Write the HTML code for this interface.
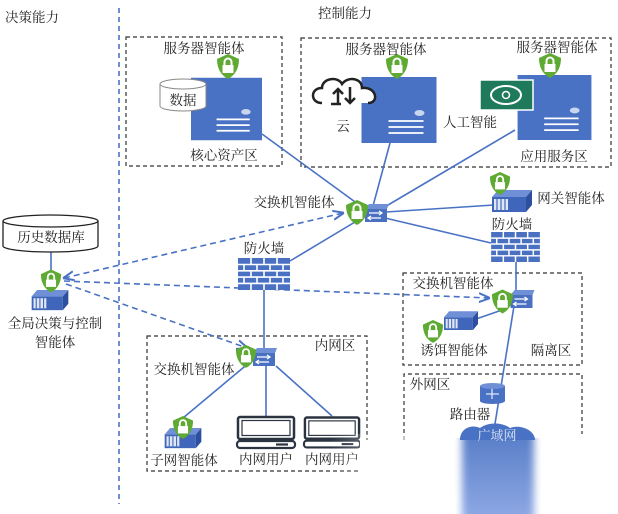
<!DOCTYPE html>
<html><head><meta charset="utf-8"><style>
html,body{margin:0;padding:0;background:#fff;}
svg{display:block;font-family:"Liberation Serif","Noto Serif CJK SC","Noto Sans CJK SC",serif;}
text{font-size:13.5px;fill:#222;}
</style></head><body>
<svg width="618" height="514" viewBox="0 0 618 514" xmlns="http://www.w3.org/2000/svg">
<defs>
<symbol id="shield" viewBox="-12 -13 24 26" overflow="visible">
<path d="M0,-12 L11,-7 Q11,7 0,13 Q-11,7 -11,-7Z" fill="#5eaa32"/>
<path d="M-3.5,-1 v-3 a3.5,3.5 0 0 1 7,0 v3" fill="none" stroke="#fff" stroke-width="2"/>
<rect x="-5.5" y="-1" width="11" height="8" fill="#fff"/>
</symbol>
<symbol id="rack" viewBox="0 0 40 24" overflow="visible">
<polygon points="6,0 40,0 34,7 0,7" fill="#6f8fd6"/>
<rect x="0" y="7" width="34" height="15" fill="#3f66bb"/>
<polygon points="34,7 40,0 40,15 34,22" fill="#2d4f9e"/>
<rect x="2" y="9" width="14" height="11" fill="#dfe6f5"/>
<line x1="5" y1="9" x2="5" y2="20" stroke="#3f66bb" stroke-width="1.2"/>
<line x1="9" y1="9" x2="9" y2="20" stroke="#3f66bb" stroke-width="1.2"/>
<line x1="13" y1="9" x2="13" y2="20" stroke="#3f66bb" stroke-width="1.2"/>
</symbol>
<symbol id="switch" viewBox="0 0 24 18" overflow="visible">
<polygon points="4,0 24,0 22,5 0,5" fill="#6f8fd6"/>
<rect x="0" y="5" width="22" height="13" fill="#4a70c2"/>
<path d="M4,9 h12 M4,14 h12" stroke="#fff" stroke-width="1.2"/>
<path d="M14,7 l3,2 l-3,2 M6,12 l-3,2 l3,2" stroke="#fff" stroke-width="1.2" fill="none"/>
</symbol>
<symbol id="fw" viewBox="0 0 52 32" overflow="visible">
<rect x="0" y="0" width="52" height="32" fill="#4a70c2"/>
<g stroke="#fff" stroke-width="1.6">
<line x1="0" y1="6.5" x2="52" y2="6.5"/><line x1="0" y1="12.8" x2="52" y2="12.8"/>
<line x1="0" y1="19.1" x2="52" y2="19.1"/><line x1="0" y1="25.4" x2="52" y2="25.4"/>
<line x1="13" y1="0" x2="13" y2="6.5"/><line x1="26" y1="0" x2="26" y2="6.5"/><line x1="39" y1="0" x2="39" y2="6.5"/>
<line x1="6" y1="6.5" x2="6" y2="12.8"/><line x1="19" y1="6.5" x2="19" y2="12.8"/><line x1="32" y1="6.5" x2="32" y2="12.8"/><line x1="45" y1="6.5" x2="45" y2="12.8"/>
<line x1="13" y1="12.8" x2="13" y2="19.1"/><line x1="26" y1="12.8" x2="26" y2="19.1"/><line x1="39" y1="12.8" x2="39" y2="19.1"/>
<line x1="6" y1="19.1" x2="6" y2="25.4"/><line x1="19" y1="19.1" x2="19" y2="25.4"/><line x1="32" y1="19.1" x2="32" y2="25.4"/><line x1="45" y1="19.1" x2="45" y2="25.4"/>
<line x1="13" y1="25.4" x2="13" y2="32"/><line x1="26" y1="25.4" x2="26" y2="32"/><line x1="39" y1="25.4" x2="39" y2="32"/>
</g>
</symbol>
<symbol id="srv" viewBox="0 0 75 66" overflow="visible">
<rect x="0" y="0" width="75" height="66" fill="#4a72c4"/>
<ellipse cx="58" cy="36" rx="5" ry="3" fill="#c9d6ef"/>
<path d="M27,44 h35 M27,50 h35 M27,56 h35" stroke="#fff" stroke-width="1.8"/>
</symbol>
<symbol id="mon" viewBox="0 0 60 32" overflow="visible">
<rect x="2" y="1" width="56" height="22" rx="2" fill="#fff" stroke="#2a3340" stroke-width="2.5"/>
<rect x="6" y="4.5" width="48" height="15" fill="#fff" stroke="#2a3340" stroke-width="1.2"/>
<rect x="1" y="25" width="58" height="7" rx="3" fill="#fff" stroke="#2a3340" stroke-width="2.2"/>
<line x1="40" y1="28.5" x2="52" y2="28.5" stroke="#2a3340" stroke-width="2.2"/>
</symbol>
<marker id="ah" viewBox="0 0 10 10" refX="9" refY="5" markerWidth="7" markerHeight="7" orient="auto-start-reverse">
<path d="M0,1 L10,5 L0,9" fill="none" stroke="#4a72c4" stroke-width="1.8"/>
</marker>
<linearGradient id="fadeL" x1="0" x2="1"><stop offset="0" stop-color="#fff" stop-opacity="0"/><stop offset="0.5" stop-color="#fff"/></linearGradient>
<linearGradient id="cloudG" x1="0" x2="0" y1="0" y2="1"><stop offset="0" stop-color="#4a72c4"/><stop offset="1" stop-color="#7f9de0"/></linearGradient>
<filter id="bl"><feGaussianBlur stdDeviation="4 0"/></filter>
</defs>

<!-- headings -->
<text x="5" y="22">决策能力</text>
<text x="318" y="18">控制能力</text>
<line x1="119" y1="8" x2="119" y2="504" stroke="#4a72c4" stroke-width="1.6" stroke-dasharray="5,4"/>

<!-- dashed zone boxes -->
<g fill="none" stroke="#333" stroke-width="1.2" stroke-dasharray="4,3">
<rect x="126" y="37" width="156" height="129"/>
<rect x="301" y="38" width="310" height="129"/>
<rect x="147" y="336" width="220" height="135"/>
<rect x="403" y="273" width="179" height="92"/>
<path d="M404,440 V374 H582 V440"/>
</g>

<!-- solid links -->
<g stroke="#4a72c4" stroke-width="1.6" fill="none">
<line x1="262" y1="134" x2="362" y2="207"/>
<line x1="390" y1="143" x2="373" y2="206"/>
<line x1="515" y1="130" x2="383" y2="208"/>
<line x1="386" y1="212" x2="494" y2="205"/>
<line x1="385" y1="218" x2="491" y2="243"/>
<line x1="290" y1="261" x2="355" y2="222"/>
<line x1="264" y1="290" x2="264" y2="352"/>
<line x1="516" y1="262" x2="516" y2="292"/>
<line x1="514" y1="306" x2="494" y2="430"/>
<line x1="505" y1="309" x2="476" y2="319"/>
<line x1="51" y1="252" x2="51" y2="272"/>
<line x1="250" y1="362" x2="183" y2="418"/>
<line x1="266" y1="366" x2="266" y2="416"/>
<line x1="276" y1="366" x2="332" y2="416"/>
</g>

<!-- dashed arrows -->
<g stroke="#4a72c4" stroke-width="1.6" fill="none" stroke-dasharray="6,4">
<line x1="64" y1="278" x2="343" y2="213" marker-start="url(#ah)" marker-end="url(#ah)"/>
<line x1="64" y1="281" x2="489" y2="298" marker-end="url(#ah)"/>
<line x1="66" y1="284" x2="247" y2="348" marker-end="url(#ah)"/>
</g>

<!-- top servers -->
<use href="#srv" x="191" y="76" width="71" height="66"/>
<use href="#srv" x="360" y="77" width="78" height="66"/>
<use href="#srv" x="515" y="75" width="79" height="65"/>
<use href="#shield" x="216" y="53" width="24" height="26"/>
<use href="#shield" x="385" y="53" width="24" height="26"/>
<use href="#shield" x="538" y="52" width="24" height="26"/>
<text x="204" y="53" text-anchor="middle">服务器智能体</text>
<text x="386" y="54" text-anchor="middle">服务器智能体</text>
<text x="557" y="52" text-anchor="middle">服务器智能体</text>

<!-- data cylinder -->
<path d="M160,84 V106 A23,5 0 0 0 206,106 V84" fill="#fff" stroke="#888" stroke-width="1"/>
<ellipse cx="183" cy="84" rx="23" ry="5" fill="#fff" stroke="#888"/>
<text x="183" y="105" text-anchor="middle">数据</text>

<!-- cloud icon -->
<path d="M322,103 C310,103 310,88 322,88 C322,78 338,76 342,84 C348,76 362,78 362,88 C376,86 380,103 368,103" fill="#fff" stroke="#222" stroke-width="2.5"/>
<path d="M338,104 V89 M333,94 l5,-5 l5,5 M350,87 V103 M345,98 l5,5 l5,-5 M331,104 h10" stroke="#222" stroke-width="2.5" fill="none"/>
<text x="343" y="131" text-anchor="middle">云</text>

<!-- AI box -->
<rect x="480" y="80" width="53" height="30" fill="#1f7a5c" stroke="#fff" stroke-width="1.5"/>
<ellipse cx="506" cy="95" rx="15" ry="9" fill="none" stroke="#fff" stroke-width="2"/>
<circle cx="506" cy="95" r="3.5" fill="none" stroke="#fff" stroke-width="1.5"/>
<text x="470" y="127" text-anchor="middle">人工智能</text>
<text x="224" y="160" text-anchor="middle">核心资产区</text>
<text x="554" y="161" text-anchor="middle">应用服务区</text>

<!-- main switch -->
<use href="#switch" x="365" y="204" width="24" height="18"/>
<use href="#shield" x="345" y="199" width="24" height="26"/>
<text x="294" y="207" text-anchor="middle">交换机智能体</text>

<!-- gateway -->
<use href="#rack" x="492" y="190" width="40" height="24"/>
<use href="#shield" x="489" y="171" width="22" height="24"/>
<text x="571" y="203" text-anchor="middle">网关智能体</text>

<!-- firewalls -->
<use href="#fw" x="490" y="232" width="51" height="30"/>
<text x="512" y="229" text-anchor="middle">防火墙</text>
<use href="#fw" x="238" y="258" width="52" height="32"/>
<text x="264" y="253" text-anchor="middle">防火墙</text>

<!-- history db -->
<path d="M3,221 V246 A47.5,6 0 0 0 98,246 V221" fill="#fff" stroke="#222" stroke-width="1.3"/>
<ellipse cx="50.5" cy="221" rx="47.5" ry="6" fill="#fff" stroke="#222" stroke-width="1.3"/>
<text x="51" y="242" text-anchor="middle">历史数据库</text>

<!-- global agent -->
<use href="#rack" x="30" y="290" width="40" height="22"/>
<use href="#shield" x="40" y="268" width="22" height="25"/>
<text x="55" y="328" text-anchor="middle">全局决策与控制</text>
<text x="55" y="347" text-anchor="middle">智能体</text>

<!-- inner network -->
<text x="335" y="350" text-anchor="middle">内网区</text>
<use href="#switch" x="252" y="348" width="26" height="18"/>
<use href="#shield" x="235" y="344" width="22" height="24"/>
<text x="194" y="374" text-anchor="middle">交换机智能体</text>
<use href="#rack" x="163" y="428" width="40" height="22"/>
<use href="#shield" x="172" y="415" width="22" height="24"/>
<text x="184" y="465" text-anchor="middle">子网智能体</text>
<use href="#mon" x="236" y="416" width="60" height="32"/>
<use href="#mon" x="303" y="416" width="58" height="32"/>
<text x="266" y="464" text-anchor="middle">内网用户</text>
<text x="332" y="464" text-anchor="middle">内网用户</text>

<!-- DMZ -->
<text x="453" y="288" text-anchor="middle">交换机智能体</text>
<use href="#switch" x="510" y="290" width="25" height="18"/>
<use href="#shield" x="491" y="288" width="23" height="26"/>
<use href="#rack" x="444" y="310" width="34" height="23"/>
<use href="#shield" x="422" y="319" width="22" height="24"/>
<text x="454" y="355" text-anchor="middle">诱饵智能体</text>
<text x="551" y="355" text-anchor="middle">隔离区</text>

<!-- outer -->
<text x="430" y="389" text-anchor="middle">外网区</text>
<path d="M480,386 V401 A12.5,3 0 0 0 505,401 V386" fill="#4a72c4"/>
<ellipse cx="492.5" cy="386" rx="12.5" ry="3" fill="#6f8fd6"/>
<path d="M486,394 h13 M492,389 v10" stroke="#dfe6f5" stroke-width="1.3"/>
<text x="470" y="419" text-anchor="middle">路由器</text>

<!-- fade overlay -->
<rect x="330" y="434" width="288" height="80" fill="url(#fadeL)"/>
<rect x="360" y="440" width="258" height="74" fill="#fff"/>
<path d="M460,440 C460,428 472,424 480,428 C488,422 502,422 510,428 C520,424 535,430 535,440 Z" fill="#4a72c4"/>
<rect x="462" y="438" width="72" height="76" fill="url(#cloudG)" filter="url(#bl)" opacity="0.9"/>
<text x="497" y="440" text-anchor="middle" style="fill:#dfe6f5;font-size:13px">广域网</text>
</svg>
</body></html>
